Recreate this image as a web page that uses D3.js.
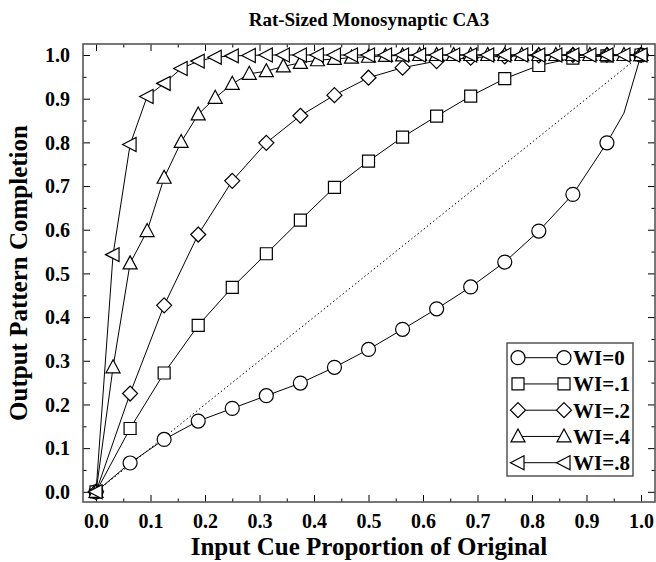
<!DOCTYPE html>
<html>
<head>
<meta charset="utf-8">
<script src="https://cdn.jsdelivr.net/npm/d3@7"></script>
<style>
  body { margin: 0; background: #fff; }
</style>
</head>
<body>
<div id="chart"></div>
<script>
// ---- data ----
const title = 'Rat-Sized Monosynaptic CA3';
const xTitle = 'Input Cue Proportion of Original';
const yTitle = 'Output Pattern Completion';

const majorTicks = [0, 0.1, 0.2, 0.3, 0.4, 0.5, 0.6, 0.7, 0.8, 0.9, 1.0];
const minorTicks = [0.05, 0.15, 0.25, 0.35, 0.45, 0.55, 0.65, 0.75, 0.85, 0.95];

// cue proportions, 1/16 steps and 1/32 steps
const cue16 = [0, 0.0625, 0.125, 0.1875, 0.25, 0.3125, 0.375, 0.4375, 0.5,
  0.5625, 0.625, 0.6875, 0.75, 0.8125, 0.875, 0.9375, 1];
const cue32 = [0, 0.03125, 0.0625, 0.09375, 0.125, 0.15625, 0.1875, 0.21875, 0.25,
  0.28125, 0.3125, 0.34375, 0.375, 0.40625, 0.4375, 0.46875, 0.5,
  0.53125, 0.5625, 0.59375, 0.625, 0.65625, 0.6875, 0.71875, 0.75,
  0.78125, 0.8125, 0.84375, 0.875, 0.90625, 0.9375, 0.96875, 1];
const cueWI0 = [0, 0.0625, 0.125, 0.1875, 0.25, 0.3125, 0.375, 0.4375, 0.5,
  0.5625, 0.625, 0.6875, 0.75, 0.8125, 0.875, 0.9375, 0.96875, 1];

const wi0 = [0, 0.066, 0.120, 0.162, 0.191, 0.220, 0.249, 0.285, 0.326,
  0.372, 0.419, 0.469, 0.526, 0.597, 0.681, 0.799, 0.867, 1.0];
const wi1 = [0, 0.145, 0.272, 0.381, 0.468, 0.545, 0.622, 0.697, 0.757,
  0.812, 0.860, 0.906, 0.946, 0.976, 0.993, 0.998, 1.0];
const wi2 = [0, 0.225, 0.427, 0.589, 0.712, 0.799, 0.861, 0.908, 0.948,
  0.971, 0.986, 0.994, 0.997, 0.999, 1, 1, 1];
const wi4 = [0, 0.285, 0.523, 0.597, 0.719, 0.801, 0.864, 0.902, 0.934,
  0.957, 0.963, 0.974, 0.982, 0.988, 0.991, 0.994, 0.996,
  0.998, 0.999, 1, 1, 1, 1, 1, 1, 1, 1, 1, 1, 1, 1, 1, 1];
const wi8 = [0, 0.543, 0.795, 0.905, 0.935, 0.969, 0.986, 0.995, 0.998,
  0.999, 1, 1, 1, 1, 1, 1, 1, 1, 1, 1, 1, 1, 1, 1, 1, 1, 1, 1, 1, 1, 1, 1, 1];

const refX = [0, 1];
const refY = [0, 1];

const series = [
  { label: 'WI=0',  xs: cueWI0, ys: wi0, shape: 'circle', every16: true },
  { label: 'WI=.1', xs: cue16,  ys: wi1, shape: 'square', every16: true },
  { label: 'WI=.2', xs: cue16,  ys: wi2, shape: 'diamond', every16: true },
  { label: 'WI=.4', xs: cue32,  ys: wi4, shape: 'up', every16: false },
  { label: 'WI=.8', xs: cue32,  ys: wi8, shape: 'left', every16: false }
];

// ---- layout ----
const W = 656, H = 562;
const FRAME = { LEFT: 83, RIGHT: 655, TOP: 44, BOTTOM: 502 };
const FONT = '"Liberation Serif", "Times New Roman", Times, "DejaVu Serif", serif';

const svg = d3.select('#chart').append('svg')
  .attr('width', W)
  .attr('height', H)
  .attr('font-family', FONT)
  .attr('font-weight', 'bold');

const x = d3.scaleLinear().domain([-0.0239, 1.0257]).range([FRAME.LEFT, FRAME.RIGHT]);
const y = d3.scaleLinear().domain([-0.0233, 1.0252]).range([FRAME.BOTTOM, FRAME.TOP]);

// marker outlines, centred on 0,0
const markerPath = (shape) => {
  switch (shape) {
    case 'circle': return 'M7,0A7,7 0 1,1 -7,0A7,7 0 1,1 7,0Z';
    case 'square': return 'M-6,-6L6,-6L6,6L-6,6Z';
    case 'diamond': return 'M0,-7.5L7.5,0L0,7.5L-7.5,0Z';
    case 'up': return 'M0,-7.5L7,5.5L-7,5.5Z';
    case 'left': return 'M-7.5,0L6,-7L6,7Z';
    default: return '';
  }
};

// axes: major + minor ticks, all pointing inward
const fmt = d3.format('.1f');
const axisG = svg.append('g').attr('class', 'axes');

const addAxis = (gen, scale, transform, size, values, labels) => {
  const a = gen(scale).tickValues(values).tickSize(-size)
    .tickFormat(labels ? fmt : '');
  const g = axisG.append('g').attr('transform', transform).call(a);
  g.attr('font-family', FONT).attr('font-size', 20);
  g.select('.domain').remove();
  g.selectAll('line').attr('stroke', '#000').attr('stroke-width', 1);
  return g;
};

const xb = addAxis(d3.axisBottom, x, `translate(0,${FRAME.BOTTOM})`, 7, majorTicks, true);
xb.selectAll('.tick text').attr('y', 12);
addAxis(d3.axisBottom, x, `translate(0,${FRAME.BOTTOM})`, 3.5, minorTicks, false);
addAxis(d3.axisTop, x, `translate(0,${FRAME.TOP})`, 7, majorTicks, false);
addAxis(d3.axisTop, x, `translate(0,${FRAME.TOP})`, 3.5, minorTicks, false);

const yl = addAxis(d3.axisLeft, y, `translate(${FRAME.LEFT},0)`, 7, majorTicks, true);
yl.selectAll('.tick text').attr('x', -13).attr('dy', '0.34em');
addAxis(d3.axisLeft, y, `translate(${FRAME.LEFT},0)`, 3.5, minorTicks, false);
addAxis(d3.axisRight, y, `translate(${FRAME.RIGHT},0)`, 7, majorTicks, false);
addAxis(d3.axisRight, y, `translate(${FRAME.RIGHT},0)`, 3.5, minorTicks, false);

axisG.selectAll('.tick text').attr('fill', '#000');

// frame
svg.append('rect')
  .attr('x', FRAME.LEFT)
  .attr('y', FRAME.TOP)
  .attr('width', FRAME.RIGHT - FRAME.LEFT)
  .attr('height', FRAME.BOTTOM - FRAME.TOP)
  .attr('fill', 'none')
  .attr('stroke', '#555')
  .attr('stroke-width', 1.6);

// titles
svg.append('text')
  .attr('x', (FRAME.LEFT + FRAME.RIGHT) / 2)
  .attr('y', 26)
  .attr('text-anchor', 'middle')
  .attr('font-size', 19)
  .text(title);

svg.append('text')
  .attr('x', (FRAME.LEFT + FRAME.RIGHT) / 2)
  .attr('y', 555)
  .attr('text-anchor', 'middle')
  .attr('font-size', 25)
  .text(xTitle);

svg.append('text')
  .attr('transform', `translate(27,${(FRAME.TOP + FRAME.BOTTOM) / 2}) rotate(-90)`)
  .attr('text-anchor', 'middle')
  .attr('font-size', 25)
  .text(yTitle);

// plot
const plot = svg.append('g').attr('class', 'plot');

const line = d3.line().x(d => x(d[0])).y(d => y(d[1]));

plot.append('path')
  .attr('d', line(d3.zip(refX, refY)))
  .attr('fill', 'none')
  .attr('stroke', '#000')
  .attr('stroke-width', 1)
  .attr('stroke-dasharray', '1.5,2.5');

series.forEach(s => {
  const pts = d3.zip(s.xs, s.ys);
  plot.append('path')
    .attr('d', line(pts))
    .attr('fill', 'none')
    .attr('stroke', '#000')
    .attr('stroke-width', 1);

  const marked = s.every16 ? pts.filter(p => Number.isInteger(Math.round(p[0] * 16 * 1e6) / 1e6)) : pts;
  plot.append('g').selectAll('path')
    .data(marked)
    .join('path')
    .attr('transform', d => `translate(${x(d[0])},${y(d[1])})`)
    .attr('d', markerPath(s.shape))
    .attr('fill', '#fff')
    .attr('stroke', '#000')
    .attr('stroke-width', 1.2);
});

// legend
const LEG = { x: 507, y: 343, w: 126, h: 133, row0: 14.7, step: 26.25 };
const legend = svg.append('g').attr('transform', `translate(${LEG.x},${LEG.y})`);

legend.append('rect')
  .attr('width', LEG.w)
  .attr('height', LEG.h)
  .attr('fill', '#fff')
  .attr('stroke', '#555')
  .attr('stroke-width', 1.5);

series.forEach((s, i) => {
  const ry = LEG.row0 + i * LEG.step;
  const row = legend.append('g').attr('transform', `translate(0,${ry})`);
  row.append('line')
    .attr('x1', 11).attr('x2', 57)
    .attr('stroke', '#000').attr('stroke-width', 1);
  [11, 57].forEach(mx => {
    row.append('path')
      .attr('transform', `translate(${mx},0)`)
      .attr('d', markerPath(s.shape))
      .attr('fill', '#fff')
      .attr('stroke', '#000')
      .attr('stroke-width', 1.2);
  });
  row.append('text')
    .attr('x', 66)
    .attr('dy', '0.35em')
    .attr('font-size', 21)
    .text(s.label);
});
</script>
</body>
</html>
